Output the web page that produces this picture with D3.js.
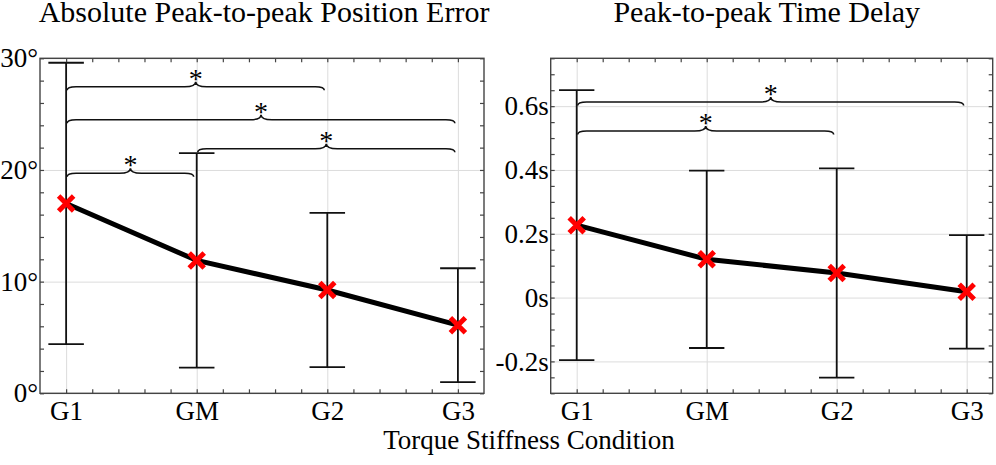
<!DOCTYPE html>
<html>
<head>
<meta charset="utf-8">
<script src="https://cdn.jsdelivr.net/npm/d3@7"></script>
<style>
  body { margin: 0; background: #fff; }
  text { font-family: "Liberation Serif", "DejaVu Serif", serif; fill: #000; }
  .grid line { stroke: #dcdcdc; stroke-width: 1; }
  .grid path { display: none; }
  .ticks path { display: none; }
  .ticks line { stroke: #444; stroke-width: 1.2; }
  .frame { fill: none; stroke: #444; stroke-width: 1.4; }
</style>
</head>
<body>
<div id="chart"></div>
<script>
// conditions on the x axis
var conditions = ["G1", "GM", "G2", "G3"];

// absolute peak-to-peak position error (degrees), mean and spread
var posMean = [17.0, 11.9, 9.25, 6.1];
var posSd = [12.6, 9.6, 6.9, 5.1];
var posTicks = [0, 10, 20, 30];
var posTickLabels = ["0°", "10°", "20°", "30°"];
// significance braces: from condition, to condition, height
var posBraceFrom = [0, 0, 1, 0];
var posBraceTo = [2, 3, 3, 1];
var posBraceLevel = [27.45, 24.5, 21.9, 19.7];

// peak-to-peak time delay (seconds)
var delayMean = [0.227, 0.12, 0.077, 0.018];
var delaySd = [0.423, 0.278, 0.328, 0.178];
var delayTicks = [-0.2, 0, 0.2, 0.4, 0.6];
var delayTickLabels = ["-0.2s", "0s", "0.2s", "0.4s", "0.6s"];
var delayBraceFrom = [0, 0];
var delayBraceTo = [3, 2];
var delayBraceLevel = [0.613, 0.522];

var W = 996, H = 465;
var svg = d3.select("#chart").append("svg")
  .attr("width", W)
  .attr("height", H);

function brace(x1, x2, yb) {
  // horizontal curly brace, ends hang down, tip points up
  var e = 3.5, t = 5, c = 9, xm = (x1 + x2) / 2;
  return "M" + x1 + "," + (yb + e) +
    " Q" + x1 + "," + yb + " " + (x1 + c) + "," + yb +
    " L" + (xm - c - 2) + "," + yb +
    " Q" + xm + "," + yb + " " + xm + "," + (yb - t) +
    " Q" + xm + "," + yb + " " + (xm + c + 2) + "," + yb +
    " L" + (x2 - c) + "," + yb +
    " Q" + x2 + "," + yb + " " + x2 + "," + (yb + e);
}

function panel(opt) {
  var width = opt.right - opt.left,
      height = opt.bottom - opt.top;

  var g = svg.append("g")
    .attr("transform", "translate(" + opt.left + "," + opt.top + ")");

  var x = d3.scaleLinear().domain([-0.2, 3.2]).range([0, width]);
  var y = d3.scaleLinear().domain(opt.domain).range([height, 0]);

  // gridlines
  g.append("g")
    .attr("class", "grid")
    .attr("transform", "translate(0," + height + ")")
    .call(d3.axisBottom(x).tickValues([0, 1, 2, 3]).tickSize(-height).tickFormat(""));
  g.append("g")
    .attr("class", "grid")
    .call(d3.axisLeft(y).tickValues(opt.ticks).tickSize(-width).tickFormat(""));

  // error bars
  var cap = 0.136;
  var bars = g.append("g").selectAll("g")
    .data(opt.mean.map(function(m, i) { return {i: i, lo: m - opt.sd[i], hi: m + opt.sd[i]}; }))
    .enter().append("g")
    .attr("stroke", "#111")
    .attr("stroke-width", 1.8);
  bars.append("line")
    .attr("x1", function(d) { return x(d.i); })
    .attr("x2", function(d) { return x(d.i); })
    .attr("y1", function(d) { return y(d.lo); })
    .attr("y2", function(d) { return y(d.hi); });
  bars.append("line")
    .attr("x1", function(d) { return x(d.i - cap); })
    .attr("x2", function(d) { return x(d.i + cap); })
    .attr("y1", function(d) { return y(d.hi); })
    .attr("y2", function(d) { return y(d.hi); });
  bars.append("line")
    .attr("x1", function(d) { return x(d.i - cap); })
    .attr("x2", function(d) { return x(d.i + cap); })
    .attr("y1", function(d) { return y(d.lo); })
    .attr("y2", function(d) { return y(d.lo); });

  // significance braces
  var braces = opt.braceFrom.map(function(f, k) {
    return {from: f, to: opt.braceTo[k], level: opt.braceLevel[k]};
  });
  g.append("g").selectAll("path")
    .data(braces)
    .enter().append("path")
    .attr("fill", "none")
    .attr("stroke", "#111")
    .attr("stroke-width", 1.6)
    .attr("d", function(d) { return brace(x(d.from) + 1, x(d.to) - 3, y(d.level)); });
  g.append("g").selectAll("text")
    .data(braces)
    .enter().append("text")
    .attr("x", function(d) { return (x(d.from) + x(d.to) - 2) / 2; })
    .attr("y", function(d) { return y(d.level) + 1; })
    .attr("text-anchor", "middle")
    .style("font-size", "28px")
    .text("*");

  // mean line
  g.append("path")
    .datum(opt.mean)
    .attr("fill", "none")
    .attr("stroke", "#000")
    .attr("stroke-width", 5)
    .attr("d", d3.line()
      .x(function(d, i) { return x(i); })
      .y(function(d) { return y(d); }));

  // red x markers
  var s = 7.5;
  g.append("g").selectAll("path")
    .data(opt.mean)
    .enter().append("path")
    .attr("transform", function(d, i) { return "translate(" + x(i) + "," + y(d) + ")"; })
    .attr("d", "M" + (-s) + "," + (-s) + "L" + s + "," + s + "M" + (-s) + "," + s + "L" + s + "," + (-s))
    .attr("stroke", "#ff0000")
    .attr("stroke-width", 5);

  // ticks on all sides, pointing inward
  var xMinor = d3.range(0, 3.01, 0.2).map(function(v) { return Math.round(v * 10) / 10; });
  var yMinor = d3.range(opt.domain[0], opt.domain[1] + 1e-9, opt.minor);

  g.append("g").attr("class", "ticks")
    .attr("transform", "translate(0," + height + ")")
    .call(d3.axisBottom(x).tickValues(xMinor).tickSize(-4).tickFormat(""));
  g.append("g").attr("class", "ticks")
    .call(d3.axisTop(x).tickValues(xMinor).tickSize(-4).tickFormat(""));
  g.append("g").attr("class", "ticks")
    .call(d3.axisLeft(y).tickValues(yMinor).tickSize(-4).tickFormat(""));
  g.append("g").attr("class", "ticks")
    .attr("transform", "translate(" + width + ",0)")
    .call(d3.axisRight(y).tickValues(yMinor).tickSize(-4).tickFormat(""));

  // tick labels
  var xAx = g.append("g")
    .attr("transform", "translate(0," + height + ")")
    .call(d3.axisBottom(x).tickValues([0, 1, 2, 3]).tickSize(0).tickPadding(8)
      .tickFormat(function(d) { return conditions[d]; }));
  xAx.select(".domain").remove();
  xAx.selectAll("text").style("font-size", "27px").attr("dy", "0.71em");

  var yAx = g.append("g")
    .call(d3.axisLeft(y).tickValues(opt.ticks).tickSize(0).tickPadding(2)
      .tickFormat(function(d, i) { return opt.tickLabels[i]; }));
  yAx.select(".domain").remove();
  yAx.selectAll("text").style("font-size", "27px");

  g.append("rect")
    .attr("class", "frame")
    .attr("width", width)
    .attr("height", height);

  // title
  g.append("text")
    .attr("x", width / 2 + opt.titleShift)
    .attr("y", 22 - opt.top)
    .attr("text-anchor", "middle")
    .style("font-size", "30px")
    .text(opt.title);
}

panel({
  left: 40, right: 484, top: 58.3, bottom: 393.3,
  domain: [0, 30], minor: 2,
  mean: posMean, sd: posSd,
  ticks: posTicks, tickLabels: posTickLabels,
  braceFrom: posBraceFrom, braceTo: posBraceTo, braceLevel: posBraceLevel,
  title: "Absolute Peak-to-peak Position Error", titleShift: 2
});

panel({
  left: 550.7, right: 992.7, top: 58.3, bottom: 393.3,
  domain: [-0.3, 0.75], minor: 0.05,
  mean: delayMean, sd: delaySd,
  ticks: delayTicks, tickLabels: delayTickLabels,
  braceFrom: delayBraceFrom, braceTo: delayBraceTo, braceLevel: delayBraceLevel,
  title: "Peak-to-peak Time Delay", titleShift: -5
});

// shared x axis label
svg.append("text")
  .attr("x", 529)
  .attr("y", 449)
  .attr("text-anchor", "middle")
  .style("font-size", "27px")
  .text("Torque Stiffness Condition");
</script>
</body>
</html>
